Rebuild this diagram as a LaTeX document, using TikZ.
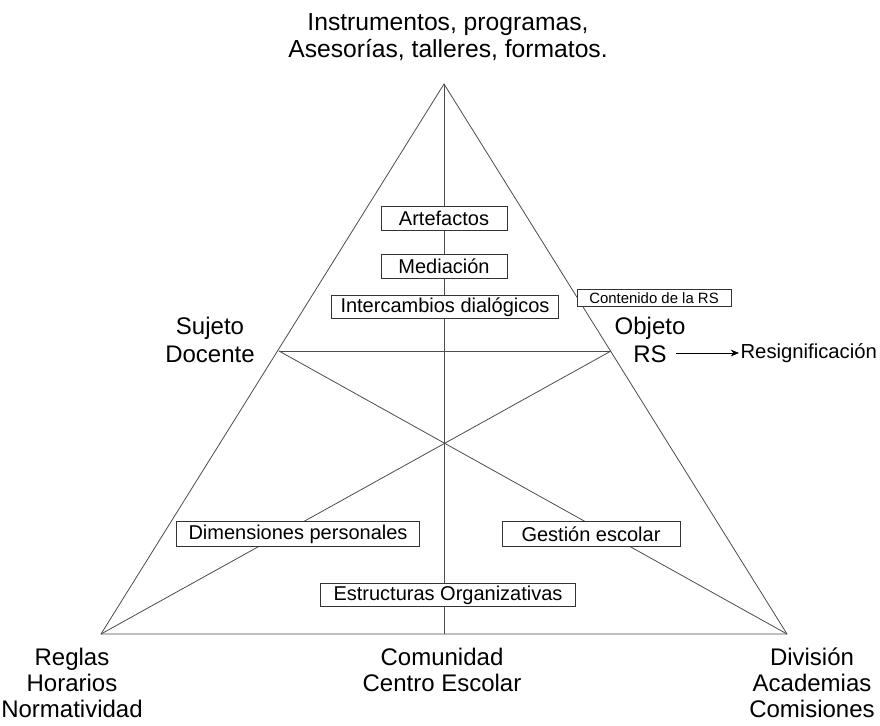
\documentclass[tikz,border=0pt]{standalone}
\usepackage{fontspec}
\setmainfont{Liberation Sans}
\usetikzlibrary{positioning,arrows.meta,calc}
\tikzset{
  corner/.style={align=center, inner sep=0pt, font=\fontsize{18}{20.5}\selectfont},
  footer/.style={corner, font=\fontsize{18}{19.5}\selectfont},
  tag/.style={draw=black!80, fill=white, line width=0.6pt, inner sep=0pt,
    font=\fontsize{15}{17}\selectfont},
  smalltag/.style={tag, font=\fontsize{11.2}{13}\selectfont},
  side/.style={draw=black!70, line width=0.6pt},
  pointer/.style={-{Stealth[length=2.2mm,width=1.8mm]}, line width=0.6pt, draw=black},
}

\begin{document}
\begin{tikzpicture}[x=0.75pt,y=-0.75pt]
\useasboundingbox (0,0) rectangle (880,725);
% corners of the activity triangle and the two side midpoints
\coordinate (top) at (444,84);
\coordinate (bl) at (101,634);
\coordinate (br) at (787,634);
\coordinate (bc) at (444,634);
\coordinate (ml) at (279,351);
\coordinate (mr) at (611,351);
\draw[side] (top) -- (bl) -- (br) -- cycle;
\draw[side] (top) -- (bc);
\draw[side] (ml) -- (mr);
\draw[side] (ml) -- (br);
\draw[side] (mr) -- (bl);
% labels round the triangle
\node[corner, font=\fontsize{18.5}{20.5}\selectfont] (instr) at (448,37) {Instrumentos, programas,\\Asesorías, talleres, formatos.};
\node[corner] (suj) at (210,340) {Sujeto\\Docente};
\node[corner] (obj) at (650,340) {Objeto\\RS};
\node[corner, font=\fontsize{15.2}{17}\selectfont, anchor=west, inner sep=1pt] (resig) at (739,353) {Resignificación};
\node[footer] (regl) at (72,683) {Reglas\\Horarios\\Normatividad};
\node[footer] (comu) at (442,670) {Comunidad\\Centro Escolar};
\node[footer] (divi) at (812,683) {División\\Academias\\Comisiones};
% boxes laid over the lines
\node[tag, minimum width=94.5pt, minimum height=18pt] (arte) at (444,218) {Artefactos};
\node[tag, minimum width=94.5pt, minimum height=18pt] (medi) at (444,266) {Mediación};
\node[tag, minimum width=170pt, minimum height=17.25pt] (inter) at (445,307) {Intercambios dialógicos};
\node[smalltag, minimum width=115.5pt, minimum height=12.75pt] (cont) at (654,298) {Contenido de la RS};
\node[tag, minimum width=182pt, minimum height=18.75pt] (dime) at (298,534) {Dimensiones personales};
\node[tag, minimum width=133.5pt, minimum height=18.75pt] (gest) at (591,534) {Gestión escolar};
\node[tag, minimum width=191pt, minimum height=17.25pt] (estr) at (448,595) {Estructuras Organizativas};
\draw[pointer] ([xshift=-7pt]obj.east |- resig.west) -- (resig.west);
\end{tikzpicture}
\end{document}
